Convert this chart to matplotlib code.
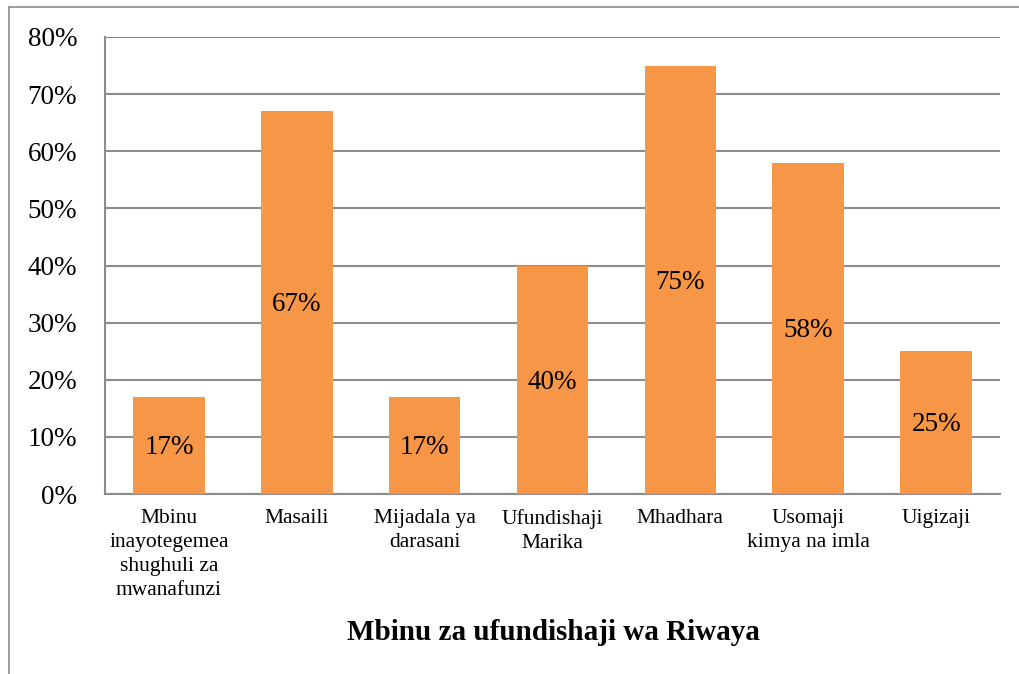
import matplotlib.pyplot as plt
from matplotlib.lines import Line2D

categories = ['Mbinu\ninayotegemea\nshughuli za\nmwanafunzi', 'Masaili',
              'Mijadala ya\ndarasani', 'Ufundishaji\nMarika', 'Mhadhara',
              'Usomaji\nkimya na imla', 'Uigizaji']
values = [17, 67, 17, 40, 75, 58, 25]
yticks = [0, 10, 20, 30, 40, 50, 60, 70, 80]

plt.rcParams['font.family'] = ['Liberation Serif', 'DejaVu Serif']

fig = plt.figure(figsize=(10.2, 6.74), dpi=100)
ax = fig.add_axes([105 / 1020, 1 - 494 / 674, 895 / 1020, 457 / 674])

x = range(len(categories))
bars = ax.bar(x, values, width=0.56, color='#F79646', zorder=3)
for b, v in zip(bars, values):
    ax.text(b.get_x() + b.get_width() / 2, v / 2 - 0.4, f'{v}%', ha='center', va='center',
            fontsize=19.5, zorder=4)

ax.set_xlim(-0.5, len(categories) - 0.5)
ax.set_ylim(0, 80)
ax.set_yticks(yticks)
ax.set_yticklabels([f'{t}%' for t in yticks], fontsize=19.5)
ax.set_xticks(list(x))
ax.set_xticklabels(categories, fontsize=15.5, linespacing=1.35, va='top')
ax.tick_params(length=0)
ax.tick_params(axis='y', pad=20)
ax.tick_params(axis='x', pad=11)
ax.grid(axis='y', color='#8c8c8c', linewidth=1.5, zorder=0)
for s in ['top', 'right']:
    ax.spines[s].set_visible(False)
for s in ['left', 'bottom']:
    ax.spines[s].set_color('#8c8c8c')
    ax.spines[s].set_linewidth(1.5)

fig.text(553 / 1020, 1 - 632 / 674, 'Mbinu za ufundishaji wa Riwaya', ha='center', va='center',
         fontsize=21, fontweight='bold')

# outer frame lines (top and left only)
fig.add_artist(Line2D([9 / 1020, 1], [1 - 7 / 674, 1 - 7 / 674], color='#8c8c8c', linewidth=1.2))
fig.add_artist(Line2D([9 / 1020, 9 / 1020], [0, 1 - 7 / 674], color='#8c8c8c', linewidth=1.2))

fig.savefig('out.png', dpi=100)
